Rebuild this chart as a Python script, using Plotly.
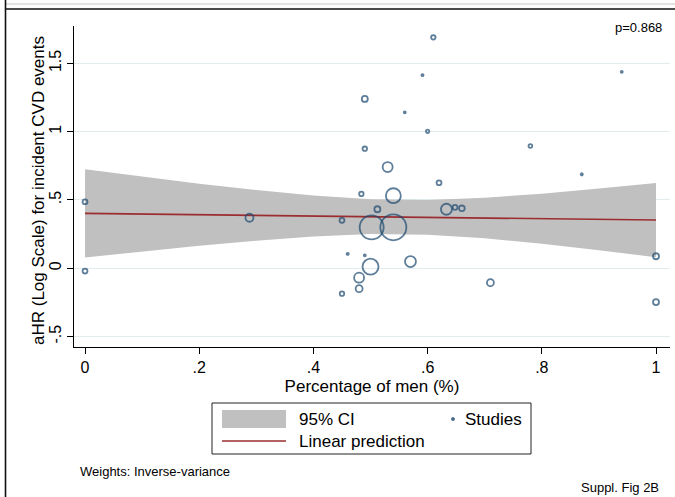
import plotly.graph_objects as go

# ---- study-level data: proportion of men vs log adjusted HR, with inverse-variance weights (%)
pct_men = [0.000, 0.000, 0.288, 0.450, 0.460, 0.450, 0.480, 0.480, 0.484, 0.490, 0.490,
           0.490, 0.500, 0.502, 0.540, 0.512, 0.530, 0.540, 0.570, 0.620, 0.633, 0.648,
           0.660, 0.710, 0.870, 1.000, 1.000, 0.610, 0.591, 0.560, 0.600, 0.780, 0.940]
log_ahr = [0.487, -0.020, 0.370, 0.351, 0.105, -0.186, -0.069, -0.149, 0.544, 0.095, 0.875,
           1.239, 0.012, 0.300, 0.300, 0.432, 0.741, 0.531, 0.049, 0.626, 0.432, 0.446,
           0.439, -0.105, 0.688, 0.088, -0.247, 1.690, 1.414, 1.141, 1.002, 0.895, 1.438]
weight_pct = [0.87, 0.87, 2.31, 0.87, 0.15, 0.72, 3.60, 1.73, 0.72, 0.12, 0.72,
              1.30, 9.23, 20.76, 24.37, 1.30, 3.60, 8.07, 4.33, 0.87, 4.33, 0.87,
              1.15, 1.73, 0.15, 1.30, 1.30, 0.72, 0.15, 0.12, 0.40, 0.50, 0.12]

# ---- meta-regression fit: linear prediction and 95% CI
fit_x = [0.0, 0.1, 0.2, 0.3, 0.4, 0.5, 0.6, 0.7, 0.8, 0.9, 1.0]
fit_y = [0.402, 0.397, 0.392, 0.387, 0.382, 0.378, 0.373, 0.368, 0.363, 0.358, 0.353]
ci_upper = [0.725, 0.671, 0.619, 0.572, 0.532, 0.506, 0.500, 0.516, 0.546, 0.583, 0.625]
ci_lower = [0.079, 0.123, 0.165, 0.202, 0.233, 0.250, 0.245, 0.220, 0.180, 0.132, 0.081]

x_ticks = [0, 0.2, 0.4, 0.6, 0.8, 1]
x_ticktext = ["0", ".2", ".4", ".6", ".8", "1"]
y_ticks = [-0.5, 0, 0.5, 1, 1.5]
y_ticktext = ["-.5", "0", ".5", "1", "1.5"]

NAVY = "#1a476f"
MAROON = "#9b2d30"
CI_GRAY = "#c0c0c0"
FONT = "Liberation Sans, Arial, sans-serif"

W, H = 675, 497
L, R, T, B = 74, 5, 26, 150
PW, PH = W - L - R, H - T - B


def px(xp):
    return (xp - L) / PW


def py(yp):
    return (H - B - yp) / PH


fig = go.Figure()

# CI band
fig.add_trace(go.Scatter(x=fit_x, y=ci_upper, mode="lines", line=dict(width=0, color=CI_GRAY),
                         hoverinfo="skip", showlegend=False))
fig.add_trace(go.Scatter(x=fit_x, y=ci_lower, mode="lines", line=dict(width=0, color=CI_GRAY),
                         fill="tonexty", fillcolor=CI_GRAY, name="95% CI", showlegend=False))
# linear prediction
fig.add_trace(go.Scatter(x=fit_x, y=fit_y, mode="lines", line=dict(width=1.6, color=MAROON),
                         name="Linear prediction", showlegend=False))
# studies, bubble area proportional to weight
fig.add_trace(go.Scatter(
    x=pct_men, y=log_ahr, mode="markers", name="Studies", showlegend=False,
    marker=dict(symbol="circle-open", color=NAVY, size=weight_pct, sizemode="area",
                sizeref=1 / (2 * 6.935), sizemin=1, line=dict(width=1.8, color=NAVY)),
))

fig.update_xaxes(
    range=[-0.0193, 1.0245], tickmode="array", tickvals=x_ticks, ticktext=x_ticktext,
    ticks="outside", ticklen=6, tickwidth=1, tickcolor="black",
    showline=True, linecolor="black", linewidth=1, showgrid=False, zeroline=False,
    tickfont=dict(family=FONT, size=16, color="black"),
    title=dict(text="Percentage of men (%)", font=dict(family=FONT, size=17, color="black"),
               standoff=4),
)
fig.update_yaxes(
    range=[-0.576, 1.773], tickmode="array", tickvals=y_ticks, ticktext=y_ticktext,
    ticks="outside", ticklen=6, tickwidth=1, tickcolor="black", tickangle=-90,
    showline=True, linecolor="black", linewidth=1, showgrid=True, gridcolor="#e2ebee",
    gridwidth=1, zeroline=False,
    tickfont=dict(family=FONT, size=16, color="black"),
)

shapes = []
# outer frame
shapes.append(dict(type="line", xref="paper", yref="paper", x0=px(5), x1=px(675), y0=py(4), y1=py(4),
                   line=dict(color="#c8c8c8", width=1)))
shapes.append(dict(type="line", xref="paper", yref="paper", x0=px(5), x1=px(675), y0=py(9), y1=py(9),
                   line=dict(color="#111111", width=1.6)))
shapes.append(dict(type="line", xref="paper", yref="paper", x0=px(5.5), x1=px(5.5), y0=py(0), y1=py(497),
                   line=dict(color="#111111", width=1.6)))
# legend box and keys
shapes.append(dict(type="rect", xref="paper", yref="paper", x0=px(212), x1=px(531), y0=py(403), y1=py(454),
                   line=dict(color="#222222", width=1), fillcolor="white"))
shapes.append(dict(type="rect", xref="paper", yref="paper", x0=px(222), x1=px(286), y0=py(410), y1=py(428),
                   line=dict(width=0), fillcolor=CI_GRAY))
shapes.append(dict(type="line", xref="paper", yref="paper", x0=px(222), x1=px(286), y0=py(441), y1=py(441),
                   line=dict(color=MAROON, width=1.6)))
shapes.append(dict(type="circle", xref="paper", yref="paper", x0=px(451.8), x1=px(454.2),
                   y0=py(420.2), y1=py(417.8), line=dict(color=NAVY, width=1.3)))
fig.update_layout(shapes=shapes)

ann_font = dict(family=FONT, color="black")
annotations = [
    dict(text="aHR (Log Scale) for incident CVD events", x=px(39), y=py(191), textangle=-90,
         xanchor="center", yanchor="middle", font=dict(size=17, **ann_font)),
    dict(text="p=0.868", x=px(664), y=py(27), xanchor="right", yanchor="middle",
         font=dict(size=13, **ann_font)),
    dict(text="95% CI", x=px(297), y=py(419), xanchor="left", yanchor="middle",
         font=dict(size=17, **ann_font)),
    dict(text="Studies", x=px(463), y=py(419), xanchor="left", yanchor="middle",
         font=dict(size=17, **ann_font)),
    dict(text="Linear prediction", x=px(297), y=py(441), xanchor="left", yanchor="middle",
         font=dict(size=17, **ann_font)),
    dict(text="Weights: Inverse-variance", x=px(78), y=py(471), xanchor="left", yanchor="middle",
         font=dict(size=13, **ann_font)),
    dict(text="Suppl. Fig 2B", x=px(661), y=py(487), xanchor="right", yanchor="middle",
         font=dict(size=13, **ann_font)),
]
for a in annotations:
    a.update(xref="paper", yref="paper", showarrow=False)
fig.update_layout(annotations=annotations)

fig.update_layout(
    width=W, height=H, margin=dict(l=L, r=R, t=T, b=B, autoexpand=False),
    paper_bgcolor="white", plot_bgcolor="white", showlegend=False,
    font=dict(family=FONT, color="black"),
)

fig.write_html("out.html")
